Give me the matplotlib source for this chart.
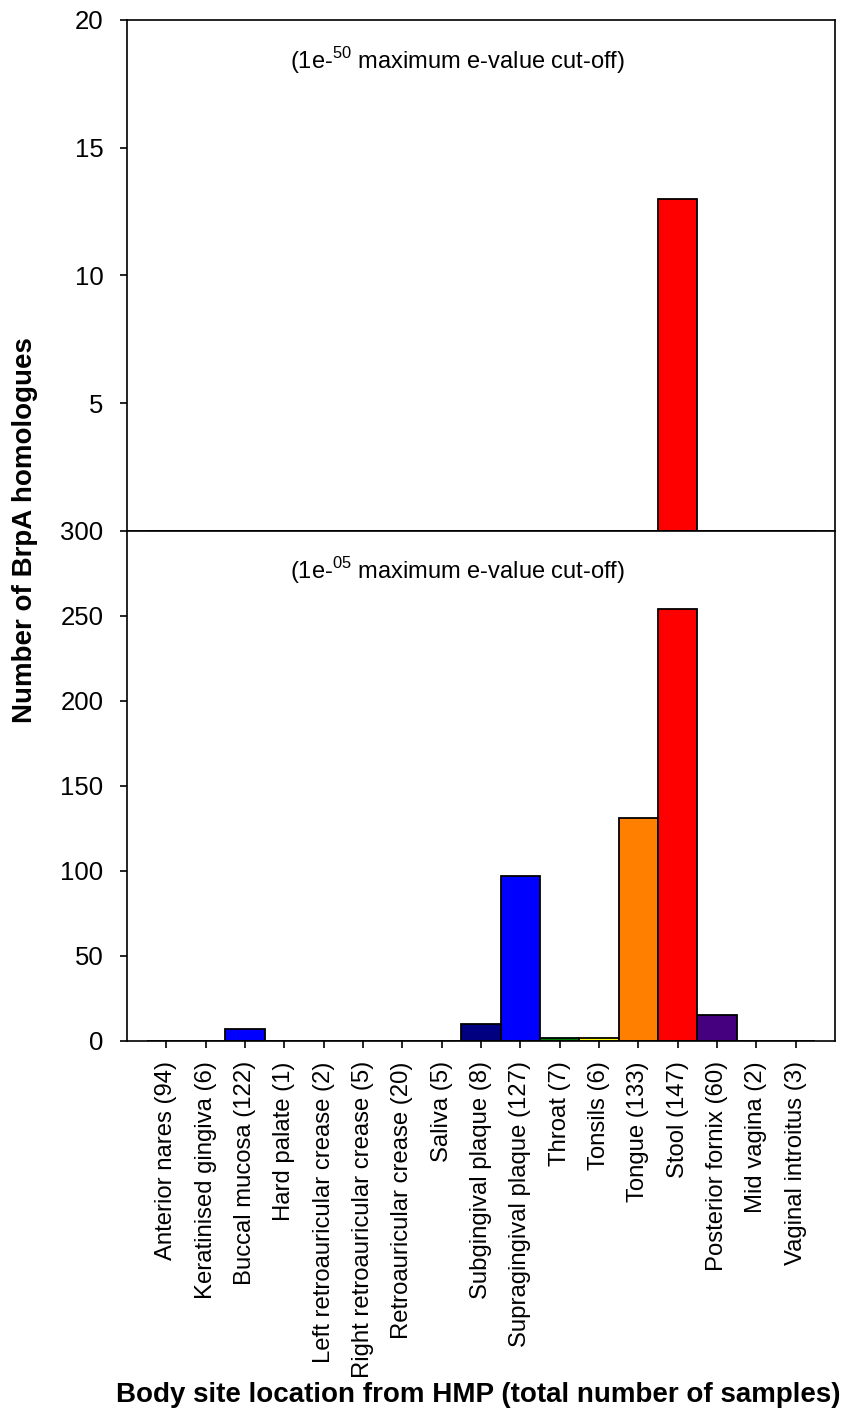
import matplotlib
matplotlib.use("Agg")
import matplotlib.pyplot as plt
import numpy as np

plt.rcParams['font.family'] = ['Liberation Sans', 'DejaVu Sans']
plt.rcParams['mathtext.fontset'] = 'custom'
plt.rcParams['mathtext.rm'] = 'Liberation Sans'

# body sites (number of samples)
sites = ["Anterior nares (94)", "Keratinised gingiva (6)", "Buccal mucosa (122)",
         "Hard palate (1)", "Left retroauricular crease (2)",
         "Right retroauricular crease (5)", "Retroauricular crease (20)",
         "Saliva (5)", "Subgingival plaque (8)", "Supragingival plaque (127)",
         "Throat (7)", "Tonsils (6)", "Tongue (133)", "Stool (147)",
         "Posterior fornix (60)", "Mid vagina (2)", "Vaginal introitus (3)"]

# homologue counts at the two e-value cut-offs
counts_1e50 = [0, 0, 0, 0, 0, 0, 0, 0, 0, 0, 0, 0, 0, 13, 0, 0, 0]
counts_1e05 = [0, 0, 7, 0, 0, 0, 0, 0, 10, 97, 2, 2, 131, 254, 15, 0, 0]

colors = ["#0000FF", "#0000FF", "#0000FF", "#0000FF", "#0000FF", "#0000FF",
          "#0000FF", "#0000FF", "#000080", "#0000FF", "#008000", "#FFFF00",
          "#FF8000", "#FF0000", "#44007F", "#0000FF", "#0000FF"]

x = np.arange(len(sites))

fig = plt.figure(figsize=(8.48, 14.27), dpi=100)
ax1 = fig.add_axes([0.1498, 0.6279, 0.8349, 0.3581])
ax2 = fig.add_axes([0.1498, 0.2705, 0.8349, 0.3574])

ax1.bar(x, counts_1e50, width=1.0, color=colors, edgecolor="black", linewidth=1.3)
ax2.bar(x, counts_1e05, width=1.0, color=colors, edgecolor="black", linewidth=1.3)

for ax in (ax1, ax2):
    ax.set_xlim(-1, len(sites))
    ax.set_xticks(x)
    ax.tick_params(direction="out", length=5, width=1.2, labelsize=18.5,
                   top=False, right=False)
    ax.tick_params(axis="y", pad=12)
    for s in ax.spines.values():
        s.set_linewidth(1.2)

ax1.set_ylim(0, 20)
ax1.set_yticks([5, 10, 15, 20])
ax1.set_xticklabels([])
ax1.text(3.14, 18.43, r"(1e-$^{\mathregular{50}}$ maximum e-value cut-off)",
         fontsize=17, ha="left", va="center")

ax2.set_ylim(0, 300)
ax2.set_yticks(np.arange(0, 301, 50))
ax2.set_xticklabels(sites, rotation=90, fontsize=17.2)
ax2.tick_params(axis="x", pad=9.5)
ax2.text(3.14, 277, r"(1e-$^{\mathregular{05}}$ maximum e-value cut-off)",
         fontsize=17, ha="left", va="center")

fig.text(0.0295, 0.6286, "Number of BrpA homologues", rotation=90,
         fontsize=20, fontweight="bold", ha="center", va="center")
fig.text(0.5637, 0.0224, "Body site location from HMP (total number of samples)",
         fontsize=20, fontweight="bold", ha="center", va="center")

fig.savefig("out.png", dpi=100)
